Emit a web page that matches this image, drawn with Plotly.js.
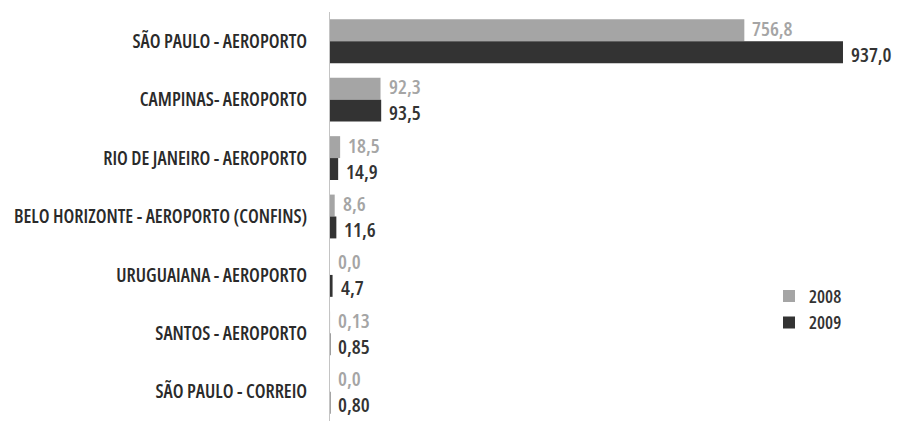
<!DOCTYPE html>
<html>
<head>
<meta charset="utf-8">
<script src="https://cdn.plot.ly/plotly-3.0.1.min.js"></script>
<style>
  html, body { margin: 0; padding: 0; background: #ffffff; }
  #chart { width: 901px; height: 426px; }
  /* narrow letterforms for every label in the chart */
  svg text { font-stretch: 82%; }
</style>
</head>
<body>
<div id="chart"></div>
<script>
// Airports / postal hubs, top to bottom
const categories = [
  'SÃO PAULO - AEROPORTO',
  'CAMPINAS- AEROPORTO',
  'RIO DE JANEIRO - AEROPORTO',
  'BELO HORIZONTE - AEROPORTO (CONFINS)',
  'URUGUAIANA - AEROPORTO',
  'SANTOS - AEROPORTO',
  'SÃO PAULO - CORREIO'
];

const values2008 = [756.8, 92.3, 18.5, 8.6, 0.0, 0.13, 0.0];
const values2009 = [937.0, 93.5, 14.9, 11.6, 4.7, 0.85, 0.80];

// decimal places shown in each value label
const decimals2008 = [1, 1, 1, 1, 1, 2, 1];
const decimals2009 = [1, 1, 1, 1, 1, 2, 2];

const seriesNames = ['2008', '2009'];
const colors = ['#a5a5a5', '#333333'];

const fmt = (v, d) => v.toFixed(d).replace('.', ',');

const FONT = '"Open Sans", sans-serif';

const traces = [values2008, values2009].map((vals, i) => ({
  type: 'bar',
  orientation: 'h',
  name: seriesNames[i],
  legendgroup: seriesNames[i],
  y: categories,
  x: vals,
  marker: { color: colors[i], line: { width: 0 } },
  hoverinfo: 'skip'
}));

// value labels placed just past each bar end, nudged apart vertically
const offsets = [-0.1875, 0.1875];
const nudges = [2, -2];
const annotations = [];
[values2008, values2009].forEach((vals, i) => {
  const decs = i === 0 ? decimals2008 : decimals2009;
  vals.forEach((v, k) => {
    annotations.push({
      x: v,
      y: k + offsets[i],
      xref: 'x',
      yref: 'y',
      text: fmt(v, decs[k]),
      showarrow: false,
      xanchor: 'left',
      yanchor: 'middle',
      xshift: 7,
      yshift: nudges[i],
      borderpad: 0,
      font: { family: FONT, size: 20, weight: 560, color: colors[i] }
    });
  });
});

const layout = {
  width: 901,
  height: 426,
  margin: { l: 330, r: 6, t: 12, b: 5 },
  paper_bgcolor: '#ffffff',
  plot_bgcolor: '#ffffff',
  barmode: 'group',
  bargap: 0.25,
  bargroupgap: 0,
  showlegend: true,
  legend: {
    x: 0.777, y: 0.35, xanchor: 'left', yanchor: 'top',
    font: { family: FONT, size: 18, weight: 560, color: '#333333' },
    tracegroupgap: 0,
    bgcolor: 'rgba(0,0,0,0)'
  },
  xaxis: {
    range: [0, 1032],
    visible: false,
    fixedrange: true
  },
  yaxis: {
    type: 'category',
    autorange: 'reversed',
    showline: true,
    linecolor: '#c4c4c4',
    linewidth: 1,
    showgrid: false,
    zeroline: false,
    ticks: '',
    ticklabelstandoff: 18,
    tickfont: { family: FONT, size: 19, weight: 560, color: '#2a2a2a' },
    fixedrange: true
  },
  annotations: annotations
};

Plotly.newPlot('chart', traces, layout, { displayModeBar: false, staticPlot: true });
</script>
</body>
</html>
